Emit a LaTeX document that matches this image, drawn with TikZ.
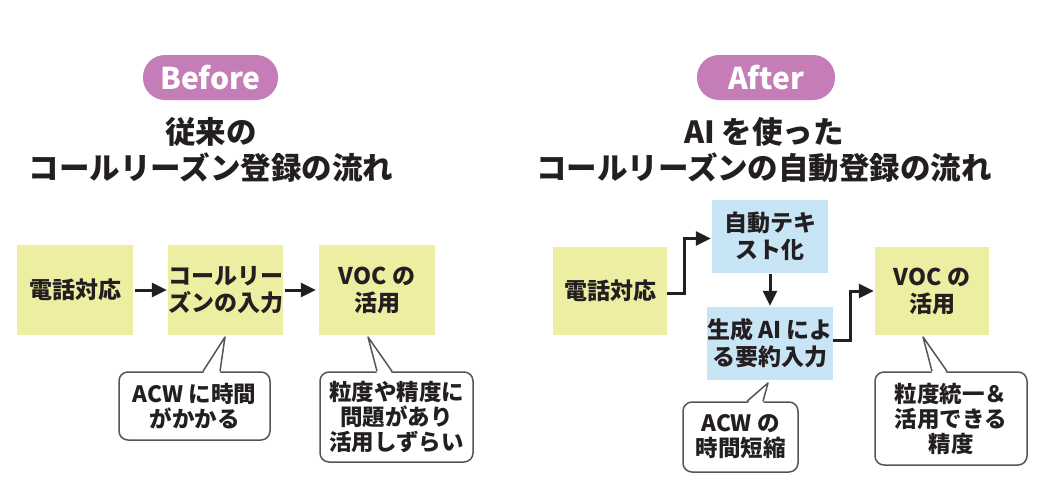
\documentclass[tikz,border=0pt]{standalone}
\usepackage{fontspec}
\setmainfont{Noto Sans CJK JP}
\usetikzlibrary{arrows.meta,calc}
\definecolor{ybox}{HTML}{EEEEA2}
\definecolor{bbox}{HTML}{C8E5F6}
\definecolor{pill}{HTML}{C47DB6}
\definecolor{ink}{HTML}{231F20}
\definecolor{cline}{HTML}{555555}
\tikzset{
  yellowbox/.style={fill=ybox,minimum width=116pt,minimum height=90pt,align=center,inner sep=0pt,
    font=\fontsize{23}{27}\selectfont\bfseries,text=ink},
  bluebox/.style={fill=bbox,minimum width=116pt,minimum height=73pt,align=center,inner sep=0pt,
    font=\fontsize{23}{27}\selectfont\bfseries,text=ink},
  pillbox/.style={fill=pill,rounded corners=22pt,minimum height=45pt,inner sep=0pt,text=white,
    font=\fontsize{30}{32}\selectfont\bfseries},
  titletext/.style={align=center,font=\fontsize{30.5}{36}\selectfont\bfseries,text=ink},
  callout/.style={draw=cline,line width=1.5pt,fill=white,rounded corners=9pt,align=center,inner sep=0pt,
    font=\fontsize{22.5}{25}\selectfont\bfseries,text=ink},
  callline/.style={draw=cline,line width=1.5pt,line join=round},
  flow/.style={line width=3pt,draw=ink,-{Triangle[length=15pt,width=14pt]}},
}
\newcommand{\calltail}[5]{%
  \fill[white] ($(#2,0 |- #1.north)+(0,2.5)$) -- (#4,#5) -- ($(#3,0 |- #1.north)+(0,2.5)$) -- cycle;
  \draw[callline] (#2,0 |- #1.north) -- (#4,#5) -- (#3,0 |- #1.north);
}
\begin{document}
\begin{tikzpicture}[x=1pt,y=-1pt]
\useasboundingbox[fill=white] (0,0) rectangle (1062,480);
% Before
\node[pillbox,minimum width=135pt] (pb) at (210.5,77.5) {Before};
\node[titletext] (tb) at (211,150) {従来の\\コールリーズン登録の流れ};
\node[yellowbox] (b1) at (75,290) {電話対応};
\node[yellowbox,minimum width=115pt] (b2) at (225.5,290) {コールリー\\ズンの入力};
\node[yellowbox] (b3) at (377,290) {VOC の\\活用};
\draw[flow,shorten <=2pt,shorten >=1pt] (b1.east) -- (b2.west);
\draw[flow,shorten <=2pt,shorten >=3pt] (b2.east) -- (b3.west);
\node[callout,minimum width=151pt,minimum height=68pt] (c1) at (194.5,406) {ACW に時間\\がかかる};
\calltail{c1}{203}{220}{225}{337}
\node[callout,minimum width=153pt,minimum height=90pt] (c2) at (396.5,417) {粒度や精度に\\問題があり\\活用しずらい};
\calltail{c2}{377}{392}{368}{337}
% After
\node[pillbox,minimum width=138pt] (pa) at (766,77.5) {After};
\node[titletext] (ta) at (764,150) {AI を使った\\コールリーズンの自動登録の流れ};
\node[yellowbox,minimum width=114pt,minimum height=88pt] (a1) at (610,291) {電話対応};
\node[bluebox] (a2) at (770,236.5) {自動テキ\\スト化};
\node[bluebox] (a3) at (770,343.5) {生成 AI によ\\る要約入力};
\node[yellowbox,minimum width=114pt,minimum height=88pt] (a4) at (932,291) {VOC の\\活用};
\draw[flow,line join=miter,shorten >=1pt] ([yshift=-2pt]a1.east) -- ++(17,0) |- ([yshift=-2pt]a2.west);
\draw[flow,shorten <=1pt,shorten >=1pt] (a2.south) -- (a3.north);
\draw[flow,line join=miter,shorten >=1pt] ([yshift=3pt]a3.east) -- ++(17,0) |- (a4.west);
\node[callout,minimum width=115pt,minimum height=70pt] (c3) at (740.5,437) {ACW の\\時間短縮};
\calltail{c3}{747}{763}{768}{383}
\node[callout,minimum width=152pt,minimum height=93pt] (c4) at (951,418.5) {粒度統一＆\\活用できる\\精度};
\calltail{c4}{932}{947}{923}{337}
\end{tikzpicture}
\end{document}
